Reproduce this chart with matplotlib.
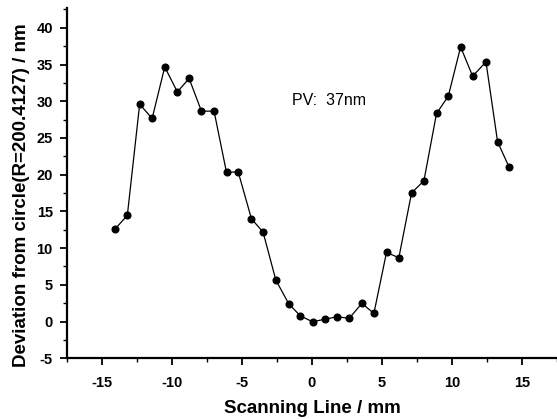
import matplotlib
matplotlib.use("Agg")
import matplotlib.pyplot as plt
from matplotlib.ticker import MultipleLocator

plt.rcParams["font.family"] = ["Liberation Sans", "DejaVu Sans"]
plt.rcParams["axes.unicode_minus"] = False

# scan position (mm) and deviation from best-fit circle (nm)
scan_mm = [-14.07, -13.17, -12.29, -11.40, -10.50, -9.60, -8.76, -7.88, -6.98,
           -6.09, -5.26, -4.31, -3.48, -2.57, -1.64, -0.81, 0.05, 0.93, 1.79,
           2.67, 3.57, 4.43, 5.33, 6.21, 7.12, 8.00, 8.90, 9.74, 10.62, 11.48,
           12.43, 13.26, 14.09]
deviation_nm = [12.55, 14.46, 29.6, 27.65, 34.67, 31.27, 33.1, 28.65, 28.65,
                20.3, 20.4, 13.99, 12.18, 5.65, 2.39, 0.76, -0.02, 0.31, 0.66,
                0.44, 2.48, 1.12, 9.42, 8.69, 17.53, 19.16, 28.33, 30.69, 37.4,
                33.41, 35.36, 24.47, 20.99]

x_ticks = [-15, -10, -5, 0, 5, 10, 15]
y_ticks = [-5, 0, 5, 10, 15, 20, 25, 30, 35, 40]

fig = plt.figure(figsize=(5.57, 4.19), dpi=100)
ax = fig.add_axes([0.1197, 0.1449, 0.8803, 0.8361])

ax.plot(scan_mm, deviation_nm, color="black", lw=0.9, marker="o",
        markersize=4.8, markerfacecolor="black", markeredgecolor="black")

ax.set_xlim(-17.5, 17.5)
ax.set_ylim(-5, 42.7)
ax.set_xticks(x_ticks)
ax.set_yticks(y_ticks)
ax.xaxis.set_minor_locator(MultipleLocator(2.5))
ax.yaxis.set_minor_locator(MultipleLocator(2.5))

for side in ("top", "right"):
    ax.spines[side].set_visible(False)
for side in ("left", "bottom"):
    ax.spines[side].set_linewidth(1.6)

ax.tick_params(which="major", direction="out", length=5, width=1.3,
               labelsize=10.5)
ax.tick_params(axis="x", which="major", pad=8)
ax.tick_params(axis="y", which="major", pad=5)
ax.tick_params(which="minor", direction="out", length=3, width=1.0)
for lab in ax.get_xticklabels() + ax.get_yticklabels():
    lab.set_fontweight("bold")

ax.set_xlabel("Scanning Line / mm", fontsize=13.5, fontweight="bold")
ax.set_ylabel("Deviation from circle(R=200.4127) / nm", fontsize=13.5,
              fontweight="bold")
ax.xaxis.set_label_coords(0.502, -0.142)
ax.yaxis.set_label_coords(-0.093, 0.466)
ax.xaxis.label.set_va("center")
ax.yaxis.label.set_va("center")

ax.text(-1.45, 30.1, "PV:  37nm", fontsize=11.5, va="center", ha="left")

fig.savefig("out.png", dpi=100)
